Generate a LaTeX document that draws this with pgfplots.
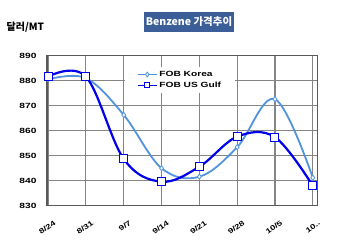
\documentclass[border=0pt]{standalone}
\usepackage{fontspec}
\setmainfont{Liberation Sans}
\newfontfamily\wide{Liberation Sans}[FakeStretch=1.36]
\newfontfamily\kr{Noto Sans CJK KR}
\usepackage{pgfplots}
\pgfplotsset{compat=1.18}
\definecolor{korea}{RGB}{79,148,220}
\definecolor{gulf}{RGB}{0,0,235}
\definecolor{titlebg}{RGB}{59,94,152}
\begin{document}
\begin{tikzpicture}[x=1pt,y=1pt]
\path[use as bounding box] (0,0) rectangle (350,246);
\node[fill=titlebg, text=white, font=\kr\bfseries\fontsize{10.5}{12}\selectfont, minimum width=90pt, minimum height=20pt, inner sep=0pt] at (189,224) {Benzene 가격추이};
\node[anchor=west, font=\kr\bfseries\fontsize{10}{12}\selectfont, inner sep=0pt] at (6.5,219) {달러/MT};
\begin{axis}[
  at={(47pt,40.3pt)}, anchor=south west,
  scale only axis, width=270.7pt, height=150pt,
  xmin=-0.03, xmax=7.13, ymin=830, ymax=890,
  ytick={830,840,...,890},
  xtick={0,...,7},
  xticklabels={8/24,8/31,9/7,9/14,9/21,9/28,10/5,10..},
  /pgf/number format/assume math mode=true,
  y tick label style={font=\wide\bfseries\fontsize{7.5}{9}\selectfont, xshift=-7pt},
  x tick label style={font=\wide\bfseries\fontsize{7}{9}\selectfont,
    xshift=5pt, yshift=-14pt, rotate=36, anchor=north east, inner sep=0pt},
  major tick length=0pt,
  grid=major,
  major grid style={draw=black!48, line width=1.1pt},
  axis line style={draw=black!65, line width=1.2pt},
  legend style={at={(0.288,0.925)}, anchor=north west, draw=none, fill=white,
    font=\wide\bfseries\fontsize{7.5}{9}\selectfont, row sep=0pt,
    inner xsep=12pt, inner ysep=2pt},
  legend image code/.code={
    \draw[mark repeat=2,mark phase=2,mark size=2.4pt,line width=1.4pt] plot coordinates {(0cm,0cm) (0.33cm,0cm) (0.66cm,0cm)};},
  legend cell align=left,
]
\addplot[color=korea, line width=1.8pt, smooth, tension=0.6,
  mark=diamond*, mark size=2.6pt, mark options={fill=white, draw=korea, line width=0.8pt}]
  coordinates {(0,880.5) (1,881) (2,866.3) (3,845) (4,841.6) (5,853.4) (6,872.6) (7,841.2)};
\addlegendentry{FOB Korea}
\addplot[color=gulf, line width=2.2pt, smooth, tension=0.6,
  mark=square*, mark size=4pt, mark options={fill=white, draw=gulf, line width=1pt}]
  coordinates {(0,881.6) (1,881.6) (2,848.7) (3,839.6) (4,845.6) (5,857.6) (6,857.4) (7,838)};
\addlegendentry{FOB US Gulf}
\end{axis}
\end{tikzpicture}
\end{document}
